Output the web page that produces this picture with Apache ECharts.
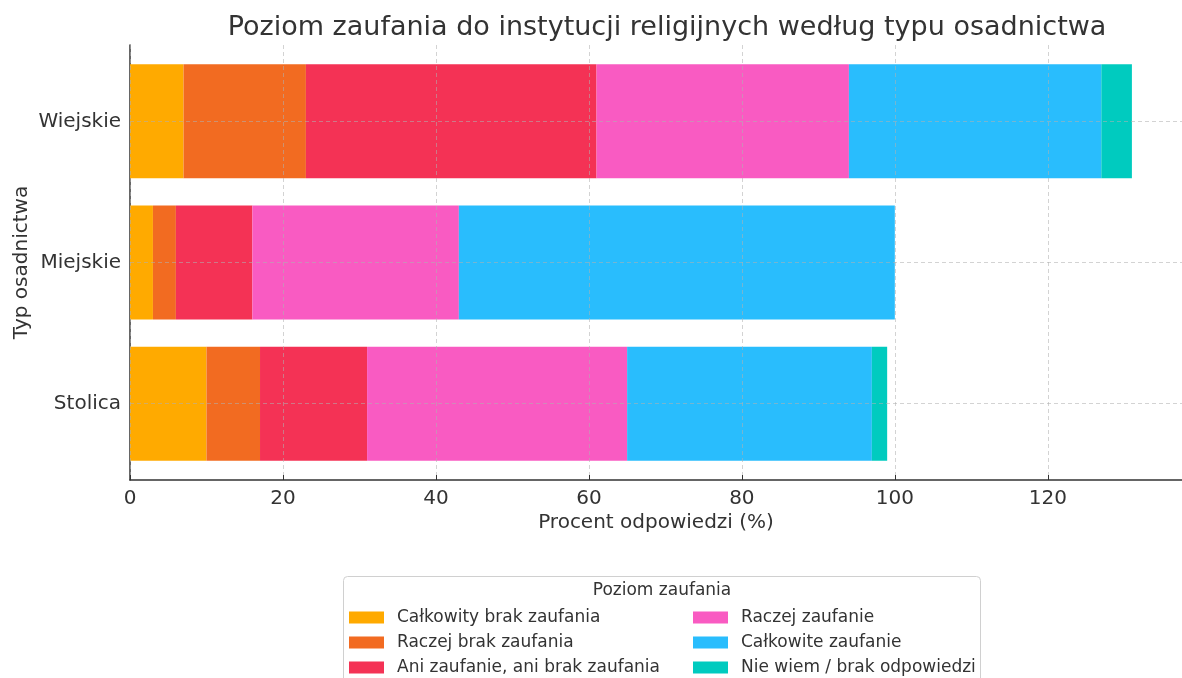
<!DOCTYPE html>
<html>
<head>
<meta charset="utf-8">
<script src="https://cdn.jsdelivr.net/npm/echarts@6/dist/echarts.min.js"></script>
<style>
  html, body { margin: 0; padding: 0; background: #fff; }
  #chart { width: 1182px; height: 678px; }
</style>
</head>
<body>
<div id="chart"></div>
<script>
// kategorie (od dołu do góry)
const categories = ['Stolica', 'Miejskie', 'Wiejskie'];
const levels = [
  'Całkowity brak zaufania',
  'Raczej brak zaufania',
  'Ani zaufanie, ani brak zaufania',
  'Raczej zaufanie',
  'Całkowite zaufanie',
  'Nie wiem / brak odpowiedzi'
];
const colors = ['#FFAA00', '#F26B21', '#F43255', '#F95BC2', '#29BDFD', '#00CBBF'];

// wartości dla [Stolica, Miejskie, Wiejskie]
const calkowityBrak = [10, 3, 7];
const raczejBrak = [7, 3, 16];
const aniAni = [14, 10, 38];
const raczejZaufanie = [34, 27, 33];
const calkowiteZaufanie = [32, 57, 33];
const nieWiem = [2, 0, 4];
const values = [calkowityBrak, raczejBrak, aniAni, raczejZaufanie, calkowiteZaufanie, nieWiem];

const font = 'DejaVu Sans';
const textColor = '#333333';
const xMax = 137.55;

const chart = echarts.init(document.getElementById('chart'));

const barSeries = levels.map((name, i) => ({
  name: name,
  type: 'bar',
  stack: 'total',
  barWidth: 114,
  data: values[i],
  itemStyle: { color: colors[i] }
}));

// poziome linie siatki nad słupkami, na środkach kategorii
const gridSeries = {
  name: 'grid',
  type: 'line',
  data: [],
  silent: true,
  z: 10,
  markLine: {
    silent: true,
    symbol: ['none', 'none'],
    label: { show: false },
    lineStyle: { color: '#b0b0b0', type: [4, 3], width: 0.8, opacity: 0.7 },
    emphasis: { disabled: true },
    data: categories.map(c => ({ yAxis: c }))
  }
};

// jedna legenda na pozycję (układ dwóch kolumn)
const legendPos = [
  [349, 609], [349, 634], [349, 659],
  [693, 609], [693, 634], [693, 659]
];
const legends = levels.map((name, i) => ({
  data: [name],
  left: legendPos[i][0],
  top: legendPos[i][1],
  padding: 0,
  itemWidth: 35,
  itemHeight: 12,
  icon: 'rect',
  selectedMode: false,
  textStyle: { fontFamily: font, fontSize: 17, color: textColor, lineHeight: 17, padding: [0, 0, 0, 8] }
}));

const option = {
  animation: false,
  textStyle: { fontFamily: font },
  title: {
    text: 'Poziom zaufania do instytucji religijnych według typu osadnictwa',
    left: 662,
    textAlign: 'center',
    top: 9,
    textStyle: { fontFamily: font, fontSize: 27, fontWeight: 'normal', color: textColor }
  },
  grid: [
    { left: 130, right: -13, top: 50.7, bottom: 203.7 },
    { left: 130, right: -13, top: 45, bottom: 198 }
  ],
  xAxis: [
    {
      gridIndex: 0,
      type: 'value',
      min: 0,
      max: xMax,
      show: false
    },
    {
      gridIndex: 1,
      type: 'value',
      min: 0,
      max: xMax,
      interval: 20,
      z: 10,
      name: 'Procent odpowiedzi (%)',
      nameLocation: 'middle',
      nameGap: 33,
      nameMoveOverlap: false,
      nameTextStyle: { fontFamily: font, fontSize: 20, color: textColor },
      axisLine: { show: true, lineStyle: { color: textColor, width: 1.5 } },
      axisTick: { show: true, inside: true, length: 5, lineStyle: { color: textColor } },
      axisLabel: { fontFamily: font, fontSize: 20, color: textColor, margin: 9, showMaxLabel: false },
      splitLine: { show: true, lineStyle: { color: '#b0b0b0', type: [4, 3], width: 0.8, opacity: 0.7 } }
    }
  ],
  yAxis: [
    {
      gridIndex: 0,
      type: 'category',
      data: categories,
      name: 'Typ osadnictwa',
      nameLocation: 'middle',
      nameGap: 98,
      nameMoveOverlap: false,
      nameRotate: 90,
      nameTextStyle: { fontFamily: font, fontSize: 20, color: textColor },
      axisLine: { show: false },
      axisTick: { show: true, inside: true, alignWithLabel: true, length: 5, lineStyle: { color: textColor } },
      axisLabel: { fontFamily: font, fontSize: 20, color: textColor, margin: 9 },
      splitLine: { show: false }
    },
    {
      gridIndex: 1,
      type: 'value',
      min: 0,
      max: 1,
      axisLine: { show: true, lineStyle: { color: textColor, width: 1.5 } },
      axisTick: { show: false },
      axisLabel: { show: false },
      splitLine: { show: false }
    }
  ],
  legend: legends,
  graphic: [
    {
      type: 'rect',
      z: -1,
      shape: { x: 343.5, y: 576.5, width: 637, height: 130, r: 4 },
      style: { fill: '#fff', stroke: '#d0d0d0', lineWidth: 1 }
    },
    {
      type: 'text',
      x: 662,
      y: 591,
      style: {
        text: 'Poziom zaufania',
        fontFamily: font,
        fontSize: 17,
        fill: textColor,
        align: 'center',
        verticalAlign: 'middle'
      }
    }
  ],
  series: barSeries.concat([gridSeries])
};

chart.setOption(option);
window.addEventListener('resize', () => chart.resize());
</script>
</body>
</html>
